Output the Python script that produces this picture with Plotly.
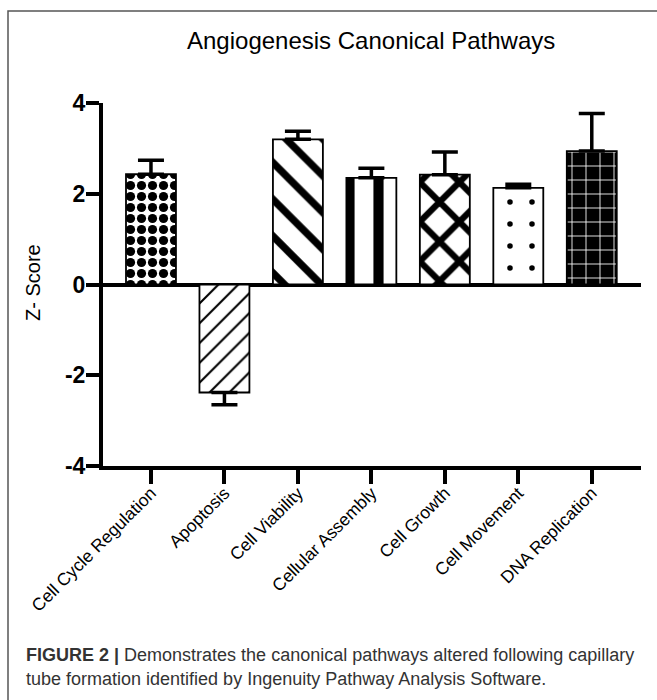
import plotly.graph_objects as go

categories = ["Cell Cycle Regulation", "Apoptosis", "Cell Viability", "Cellular Assembly",
              "Cell Growth", "Cell Movement", "DNA Replication"]
z_scores = [2.43, -2.38, 3.20, 2.35, 2.42, 2.13, 2.94]
errors = [0.31, 0.27, 0.18, 0.21, 0.50, 0.08, 0.83]
y_ticks = [-4, -2, 0, 2, 4]

W, H = 657, 700
def px(x): return x / W
def py(y): return 1 - y / H

err_up = [e if v >= 0 else 0 for v, e in zip(z_scores, errors)]
err_dn = [e if v < 0 else 0 for v, e in zip(z_scores, errors)]

shapes_pat = [".", "/", "\\", "|", "x", ".", "+"]
sizes = [11, 14, 26, 29, 28, 22, 14]
solid = [0.55, 0.15, 0.28, 0.35, 0.4, 0.05, 0.12]
bg = ["white"] * 6 + ["black"]
fg = ["black"] * 6 + ["white"]

fig = go.Figure()
fig.add_trace(go.Bar(
    x=categories, y=z_scores, width=0.68,
    marker=dict(color="white", line=dict(color="black", width=1.8),
                pattern=dict(shape=shapes_pat, size=sizes, solidity=solid,
                             bgcolor=bg, fgcolor=fg, fillmode="replace")),
    error_y=dict(type="data", symmetric=False, array=err_up, arrayminus=err_dn,
                 color="black", thickness=3.5, width=13),
    showlegend=False, hoverinfo="skip"))

fig.update_layout(
    width=W, height=H, margin=dict(l=0, r=0, t=0, b=0, pad=0, autoexpand=False),
    paper_bgcolor="white", plot_bgcolor="rgba(0,0,0,0)",
    font=dict(family="Liberation Sans, Arial, sans-serif", color="black"),
    xaxis=dict(domain=[px(103), px(641)], range=[-0.653, 6.67], type="category",
               showline=True, linewidth=4, linecolor="black",
               ticks="outside", ticklen=14, tickwidth=4, tickcolor="black", automargin=False,
               ticklabelstandoff=-8,
               tickangle=-45, tickfont=dict(size=17.5), showgrid=False, zeroline=False),
    yaxis=dict(domain=[py(466), py(103)], range=[-4, 4], tickvals=y_ticks,
               ticktext=[str(t) for t in y_ticks], automargin=False,
               showline=True, linewidth=4, linecolor="black",
               ticks="outside", ticklen=13, tickwidth=4, tickcolor="black",
               ticklabelstandoff=-4,
               tickfont=dict(size=23, family="Liberation Sans, Arial", weight="bold"),
               showgrid=False, zeroline=True, zerolinewidth=4, zerolinecolor="black"),
)

fig.add_annotation(text="Angiogenesis Canonical Pathways", x=px(371), y=py(40),
                   xref="paper", yref="paper", showarrow=False,
                   xanchor="center", yanchor="middle",
                   font=dict(size=24, color="black"))
fig.add_annotation(text="Z- Score", x=px(33), y=py(283), xref="paper", yref="paper",
                   xanchor="center", yanchor="middle",
                   showarrow=False, textangle=-90, font=dict(size=20, color="black"))
fig.add_annotation(text="<b>FIGURE 2 |</b> Demonstrates the canonical pathways altered following capillary",
                   x=px(24), y=py(655), xref="paper", yref="paper", xanchor="left", yanchor="middle",
                   showarrow=False, font=dict(size=18, color="#333333"))
fig.add_annotation(text="tube formation identified by Ingenuity Pathway Analysis Software.",
                   x=px(24), y=py(679), xref="paper", yref="paper", xanchor="left", yanchor="middle",
                   showarrow=False, font=dict(size=18, color="#333333"))

fig.add_shape(type="rect", xref="paper", yref="paper", x0=px(8), x1=1.02, y0=-0.02, y1=py(11),
              line=dict(color="#555555", width=1.5), fillcolor="rgba(0,0,0,0)")

fig.write_html("out.html", config={"displayModeBar": False},
               post_script="document.body.style.margin='0';document.body.style.overflow='hidden';")
